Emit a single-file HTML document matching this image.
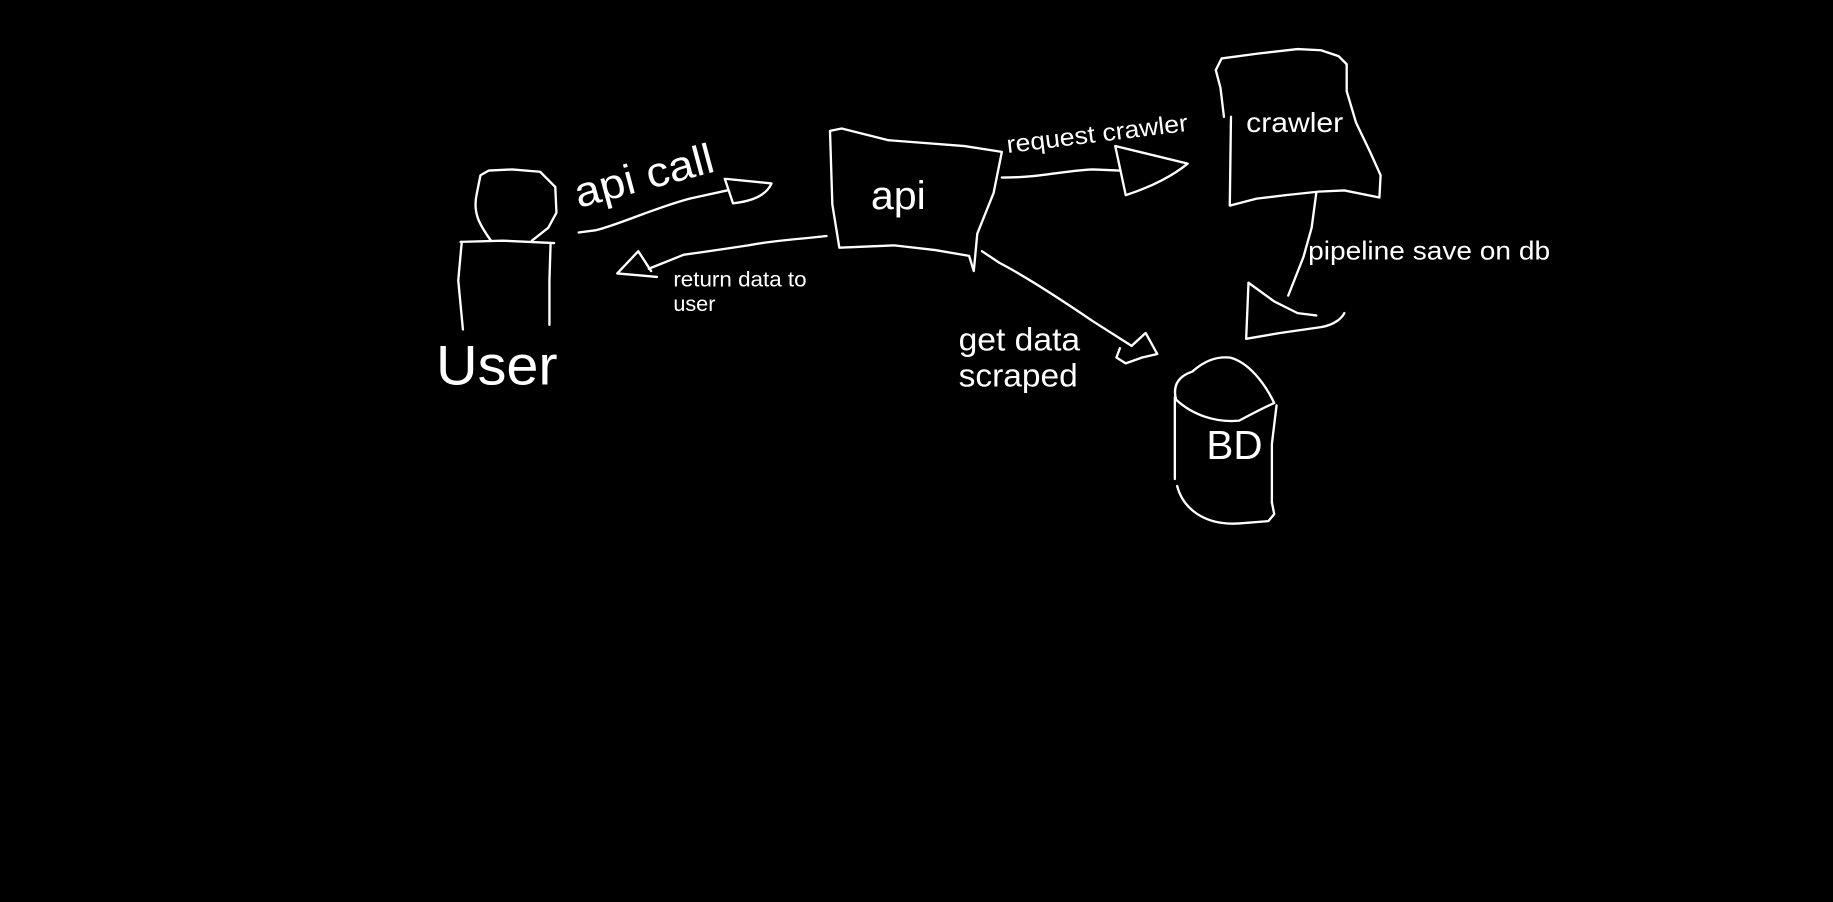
<!DOCTYPE html>
<html><head><meta charset="utf-8"><style>
html,body{margin:0;padding:0;background:#000;width:1833px;height:902px;overflow:hidden}
svg{display:block}
text{fill:#fff;font-family:"Liberation Sans",sans-serif}
path{fill:none;stroke:#fff;stroke-width:2;stroke-linecap:round;stroke-linejoin:round}
</style></head><body>
<svg width="1833" height="902" viewBox="0 0 1568 772" preserveAspectRatio="none">
<rect width="1568" height="772" fill="#000"/>
<!-- User -->
<path d="M420,206 C410,192 404,182 408,165 L411,150 L418,146 L438,145 L462,147 L475,160 L476,182 L469,195 L455,206"/>
<path d="M394,207 L430,206 L474,208"/>
<path d="M396,282 L392,240 L395,207"/>
<path d="M470,278 L470,240 L471,208"/>
<text x="373" y="329" font-size="48" textLength="104" lengthAdjust="spacingAndGlyphs">User</text>
<!-- api call -->
<path d="M495,199 L510,197 C530,192 560,178 590,170 L622,163"/>
<path d="M620,153 L660,157 C656,166 646,172 627,174 L620,153"/>
<text x="0" y="0" font-size="36" transform="translate(495,178) rotate(-15)" textLength="122" lengthAdjust="spacingAndGlyphs">api call</text>
<!-- return -->
<path d="M707,202 C680,205 660,206 640,210 C620,213 600,216 585,218 L555,230"/>
<path d="M528,234 L546,215 L557,232 M528,234 L562,237"/>
<text x="576" y="245" font-size="18" textLength="114" lengthAdjust="spacingAndGlyphs">return data to</text>
<text x="576" y="266" font-size="18" textLength="36" lengthAdjust="spacingAndGlyphs">user</text>
<!-- api box -->
<path d="M710,112 L720,110 L760,120 L825,125 L857,130 L850,165 L836,200 L833,232 L829,219 L800,214 L765,210 L718,212 L712,175 L710,112"/>
<text x="745" y="179" font-size="34" textLength="47" lengthAdjust="spacingAndGlyphs">api</text>
<!-- request crawler -->
<path d="M857,152 C890,152 910,146 935,145 L958,146"/>
<path d="M954,125 L1016,140 C1004,150 985,160 963,167 L954,125"/>
<text x="0" y="0" font-size="21" transform="translate(862,131) rotate(-7)" textLength="156" lengthAdjust="spacingAndGlyphs">request crawler</text>
<!-- crawler box -->
<path d="M1053,100 L1052,176 L1075,170 L1100,167 L1128,164 L1150,163 L1180,169 L1181,150 L1172,130 L1160,105 L1152,78 L1152,55 L1145,48 L1130,43 L1110,42 L1075,46 L1045,50 L1040,60 L1044,75 L1047,100"/>
<text x="1066" y="113" font-size="24" textLength="83" lengthAdjust="spacingAndGlyphs">crawler</text>
<!-- pipeline -->
<path d="M1126,165 L1122,195 L1115,220 L1102,253"/>
<text x="1119" y="222" font-size="22" textLength="207" lengthAdjust="spacingAndGlyphs">pipeline save on db</text>
<path d="M1068,242 L1066,290 L1095,285 L1130,280 C1142,278 1148,272 1150,268"/>
<path d="M1068,242 L1090,258 L1110,268 L1126,270"/>
<!-- get data -->
<path d="M840,215 L855,225 C880,238 910,258 935,275 L968,296"/>
<path d="M958,298 L955,306 L963,311 L977,306 L990,303 L980,285 L968,296"/>
<text x="820" y="300" font-size="28" textLength="104" lengthAdjust="spacingAndGlyphs">get data</text>
<text x="820" y="331" font-size="28" textLength="102" lengthAdjust="spacingAndGlyphs">scraped</text>
<!-- BD -->
<path d="M1020,318 C1008,322 1003,330 1006,342 C1020,355 1040,362 1060,360 C1075,352 1085,347 1090,345 C1082,328 1068,310 1052,306 C1040,305 1030,309 1020,318"/>
<path d="M1005,340 L1005,410"/>
<path d="M1092,347 L1088,380 L1088,430"/>
<path d="M1007,416 C1012,435 1030,450 1060,448 L1085,446 L1090,440 L1088,430"/>
<text x="1032" y="393" font-size="35" textLength="48" lengthAdjust="spacingAndGlyphs">BD</text>
</svg>
</body></html>
